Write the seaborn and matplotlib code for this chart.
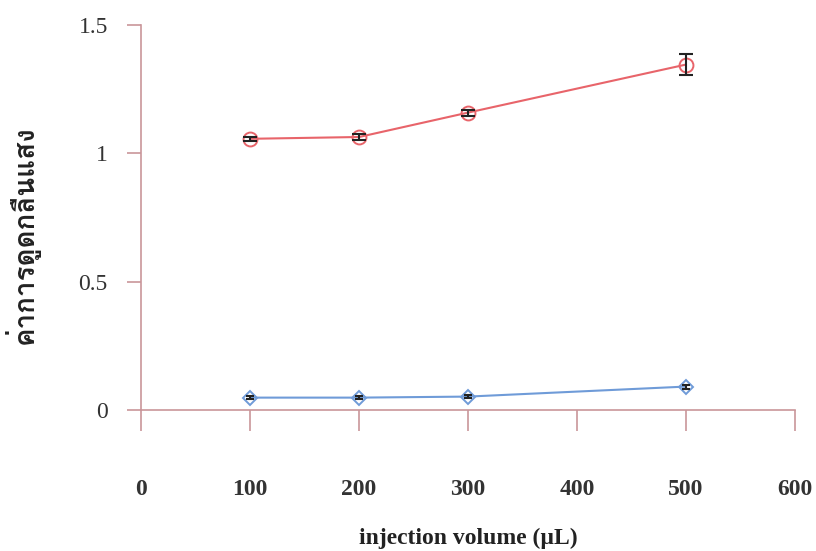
import matplotlib
matplotlib.use("Agg")
import matplotlib.pyplot as plt
import seaborn as sns
import pandas as pd

volume = [100, 200, 300, 500]
absorb_red = [1.056, 1.063, 1.158, 1.345]
err_red = [0.008, 0.010, 0.012, 0.040]
absorb_blue = [0.048, 0.048, 0.052, 0.091]
err_blue = [0.005, 0.005, 0.005, 0.008]

ylabel = "ค่าการดูดกลืนแสง"
xlabel = "injection volume (µL)"

sns.set_theme(style="white")
plt.rcParams["font.family"] = ["Liberation Serif", "DejaVu Serif"]

df = pd.DataFrame({
    "volume": volume * 2,
    "absorb": absorb_red + absorb_blue,
    "series": ["red"] * 4 + ["blue"] * 4,
})

fig = plt.figure(figsize=(8.16, 5.51), dpi=100)
ax = fig.add_axes([0.173, 0.256, 0.801, 0.699])

sns.lineplot(data=df, x="volume", y="absorb", hue="series", style="series",
             palette={"red": "#e8646a", "blue": "#6f9bd8"},
             markers={"red": "o", "blue": "D"}, dashes=False,
             markersize=10, markeredgewidth=1.4,
             linewidth=1.5, legend=False, ax=ax)
# hollow markers with edge colours per series
for line, col in zip(ax.lines, ["#e8646a", "#6f9bd8"]):
    line.set_markeredgecolor(col)
    line.set_markerfacecolor("none")
ax.lines[1].set_markersize(7)

ax.errorbar(volume, absorb_red, yerr=err_red, fmt="none", ecolor="#222222",
            elinewidth=1.5, capsize=5, capthick=1.5)
ax.errorbar(volume, absorb_blue, yerr=err_blue, fmt="none", ecolor="#222222",
            elinewidth=1.5, capsize=3, capthick=1.5)

ax.set_xlim(0, 600)
ax.set_ylim(0, 1.5)
ax.set_xticks([0, 100, 200, 300, 400, 500, 600])
ax.set_yticks([0, 0.5, 1, 1.5])
ax.set_yticklabels(["0", "0.5", "1", "1.5"])

spine_col = "#c9969a"
for s in ["top", "right"]:
    ax.spines[s].set_visible(False)
for s in ["left", "bottom"]:
    ax.spines[s].set_color(spine_col)
    ax.spines[s].set_linewidth(1.2)

ax.tick_params(axis="x", direction="out", length=15, width=1.2, color=spine_col,
               pad=55 - 20, labelsize=17, labelcolor="#333333", bottom=True)
ax.tick_params(axis="y", direction="out", length=10, width=1.2, color=spine_col,
               pad=14, labelsize=17, labelcolor="#333333", left=True)
for t in ax.get_xticklabels():
    t.set_fontweight("bold")

ax.set_xlabel(xlabel, fontsize=17, fontweight="bold", color="#222222", labelpad=20)
ax.set_ylabel(ylabel, fontsize=20, fontweight="bold", color="#222222",
              family=["Loma", "DejaVu Sans"])
ax.yaxis.set_label_coords(-0.155, 0.455)

fig.savefig("out.png", dpi=100)
